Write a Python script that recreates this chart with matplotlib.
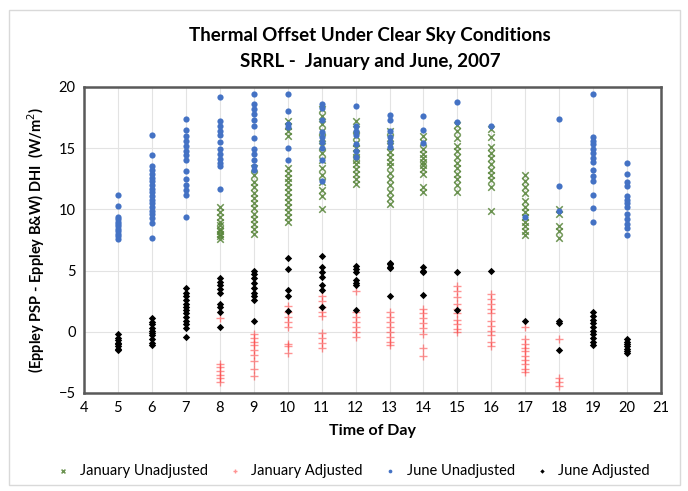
import matplotlib.pyplot as plt
from matplotlib.patches import Rectangle

plt.rcParams['font.family'] = ['Lato', 'DejaVu Sans']

# hours and readings for each series (W/m^2)
jan_unadj = {
    8: [10.2, 9.8, 9.4, 9.0, 8.7, 8.4, 8.2, 8.0, 7.8, 7.6],
    9: [13.4, 12.8, 12.2, 11.8, 11.3, 10.9, 10.5, 10.1, 9.6, 9.2, 8.8, 8.4, 8.0],
    10: [17.2, 16.8, 16.4, 16.0, 13.4, 13.0, 12.6, 12.2, 11.8, 11.4, 11.0, 10.6, 10.2, 9.8, 9.4, 9.0],
    11: [18.2, 17.6, 17.0, 16.4, 15.8, 15.2, 14.6, 14.0, 13.4, 12.8, 12.2, 11.6, 11.1, 10.0],
    12: [17.2, 16.6, 16.0, 15.4, 15.0, 14.6, 14.3, 14.0, 13.7, 13.3, 12.9, 12.5, 12.1],
    13: [16.4, 15.8, 15.2, 14.7, 14.3, 13.9, 13.5, 13.0, 12.5, 12.0, 11.4, 10.9, 10.4],
    14: [16.0, 15.5, 14.9, 14.5, 14.2, 13.9, 13.6, 13.3, 12.9, 11.8, 11.4],
    15: [16.9, 16.4, 15.8, 15.2, 14.8, 14.3, 13.8, 13.4, 12.9, 12.5, 12.0, 11.4],
    16: [16.6, 15.9, 15.1, 14.6, 14.2, 13.7, 13.2, 12.8, 12.4, 11.8, 9.9],
    17: [12.8, 12.3, 11.8, 11.3, 10.7, 10.2, 9.8, 9.4, 9.0, 8.6, 8.2, 7.9],
    18: [10.0, 9.6, 8.6, 8.2, 7.7],
}
jan_adj = {
    8: [1.1, -2.6, -2.9, -3.2, -3.5, -3.8, -4.1],
    9: [-0.2, -0.5, -0.8, -1.1, -1.5, -1.9, -2.4, -3.0, -3.6],
    10: [2.1, 1.6, 1.2, 0.8, 0.4, -1.0, -1.2, -1.7],
    11: [2.9, 2.5, 2.0, 1.6, 1.3, -0.1, -0.5, -0.9, -1.3],
    12: [3.3, 1.6, 1.2, 0.8, 0.4, 0.0, -0.4],
    13: [1.6, 1.2, 0.8, 0.4, 0.0, -0.4, -0.8, -1.1],
    14: [1.9, 1.5, 1.1, 0.7, 0.3, -0.2, -1.3, -2.0],
    15: [3.7, 3.3, 2.8, 2.3, 1.9, 1.5, 1.0, 0.6, 0.2, 0.0],
    16: [3.1, 2.7, 2.3, 1.9, 1.5, 0.9, 0.5, 0.1, -0.3, -0.8, -1.2],
    17: [0.4, -0.6, -1.0, -1.3, -1.6, -2.0, -2.3, -2.6, -3.0, -3.3],
    18: [-0.6, -3.8, -4.1, -4.4],
}
jun_unadj = {
    5: [11.2, 10.3, 9.4, 9.2, 9.0, 8.8, 8.6, 8.4, 8.2, 8.0, 7.8, 7.6],
    6: [16.1, 14.4, 13.5, 13.2, 12.9, 12.6, 12.3, 12.0, 11.7, 11.4, 11.1, 10.8, 10.5, 10.2, 9.9, 9.6, 9.3, 8.9, 7.7],
    7: [17.4, 16.5, 16.0, 15.6, 15.2, 14.8, 14.4, 14.0, 13.1, 12.5, 12.0, 11.6, 11.2, 9.4],
    8: [19.2, 17.2, 16.8, 16.4, 16.1, 15.5, 14.9, 14.5, 14.1, 13.8, 13.5, 11.7],
    9: [19.4, 18.6, 18.2, 17.8, 17.3, 16.8, 15.8, 14.9, 14.5, 14.0, 13.5, 13.2],
    10: [19.4, 18.0, 17.0, 16.7, 15.0, 14.0],
    11: [18.6, 18.3, 17.3, 16.3, 15.9, 15.5, 15.0, 14.0, 12.3],
    12: [18.4, 16.8, 16.4, 16.1, 15.3, 14.8, 14.3],
    13: [17.7, 17.3, 16.4, 15.9, 15.5, 15.1],
    14: [17.6, 16.5, 15.4],
    15: [18.8, 17.1],
    16: [16.8],
    17: [9.4],
    18: [17.4, 11.9, 9.9],
    19: [19.4, 15.9, 15.6, 15.3, 14.9, 14.6, 14.2, 13.9, 13.2, 12.7, 12.3, 11.2, 10.1, 9.0],
    20: [13.8, 12.9, 12.2, 11.9, 11.1, 10.8, 10.5, 10.2, 9.6, 9.2, 8.8, 8.5, 7.9],
}
jun_adj = {
    5: [-0.2, -0.5, -0.7, -0.9, -1.0, -1.2, -1.4, -1.5],
    6: [1.1, 0.8, 0.6, 0.3, 0.1, -0.1, -0.3, -0.6, -0.9, -1.1],
    7: [3.6, 3.2, 2.9, 2.6, 2.3, 2.0, 1.8, 1.5, 1.2, 0.9, 0.6, 0.3, -0.4],
    8: [4.4, 4.1, 3.8, 3.5, 3.2, 2.3, 2.0, 1.6, 0.4],
    9: [5.0, 4.7, 4.4, 4.0, 3.6, 3.2, 2.9, 2.6, 0.9],
    10: [6.0, 5.1, 3.4, 2.9, 1.7],
    11: [6.2, 5.3, 4.9, 4.5, 3.8, 3.4, 2.0],
    12: [5.4, 5.1, 4.9, 4.2, 4.0, 3.8, 1.8],
    13: [5.6, 5.5, 5.3, 5.2, 2.9],
    14: [5.3, 5.0, 4.9, 3.0],
    15: [4.9, 1.8],
    16: [5.0],
    17: [0.9],
    18: [0.9, 0.7, -1.5],
    19: [1.6, 1.3, 1.0, 0.7, 0.4, 0.1, -0.2, -0.5, -0.8, -1.1],
    20: [-0.6, -0.8, -1.0, -1.2, -1.4, -1.6, -1.7],
}


def flatten(d):
    xs, ys = [], []
    for h, vals in d.items():
        xs += [h] * len(vals)
        ys += vals
    return xs, ys


fig = plt.figure(figsize=(6.88, 4.91), dpi=100)
ax = fig.add_axes([0.122, 0.1996, 0.839, 0.6234])

x, y = flatten(jan_unadj)
ax.scatter(x, y, marker='x', s=22, color='#548235', linewidths=1.1, alpha=0.85,
           label='January Unadjusted', zorder=3)
x, y = flatten(jan_adj)
ax.scatter(x, y, marker='+', s=30, color='#FF3B3B', linewidths=1.0, alpha=0.55,
           label='January Adjusted', zorder=3)
x, y = flatten(jun_unadj)
ax.scatter(x, y, marker='o', s=20, color='#4472C4', linewidths=0,
           label='June Unadjusted', zorder=4)
x, y = flatten(jun_adj)
ax.scatter(x, y, marker='D', s=14, color='black', linewidths=0,
           label='June Adjusted', zorder=5)

ax.set_xlim(4, 21)
ax.set_ylim(-5, 20)
ax.set_xticks(range(4, 22))
ax.set_yticks(range(-5, 21, 5))
ax.grid(color='#E3E3E3', linewidth=0.8, zorder=0)
ax.set_axisbelow(True)
ax.tick_params(length=0, labelsize=10.5, colors='black', pad=6)
for s in ax.spines.values():
    s.set_color('#595959')
    s.set_linewidth(1.8)

ax.set_xlabel('Time of Day', fontsize=11.5, fontweight='bold', labelpad=6)
ax.set_ylabel('(Eppley PSP - Eppley B&W) DHI  (W/m$^2$)', fontsize=10.5,
              fontweight='bold', labelpad=8)
fig.text(0.538, 0.928, 'Thermal Offset Under Clear Sky Conditions', ha='center',
         va='center', fontsize=13.5, fontweight='bold')
fig.text(0.538, 0.874, 'SRRL -  January and June, 2007', ha='center',
         va='center', fontsize=13.5, fontweight='bold')

ax.legend(loc='upper center', bbox_to_anchor=(0.46, -0.19), ncol=4, frameon=False,
          fontsize=10.5, handletextpad=0.1, columnspacing=0.9, markerscale=0.6)

fig.patches.append(Rectangle((0.013, 0.012), 0.975, 0.968, transform=fig.transFigure,
                             fill=False, edgecolor='#D9D9D9', linewidth=1.0))

fig.savefig('out.png', dpi=100)
